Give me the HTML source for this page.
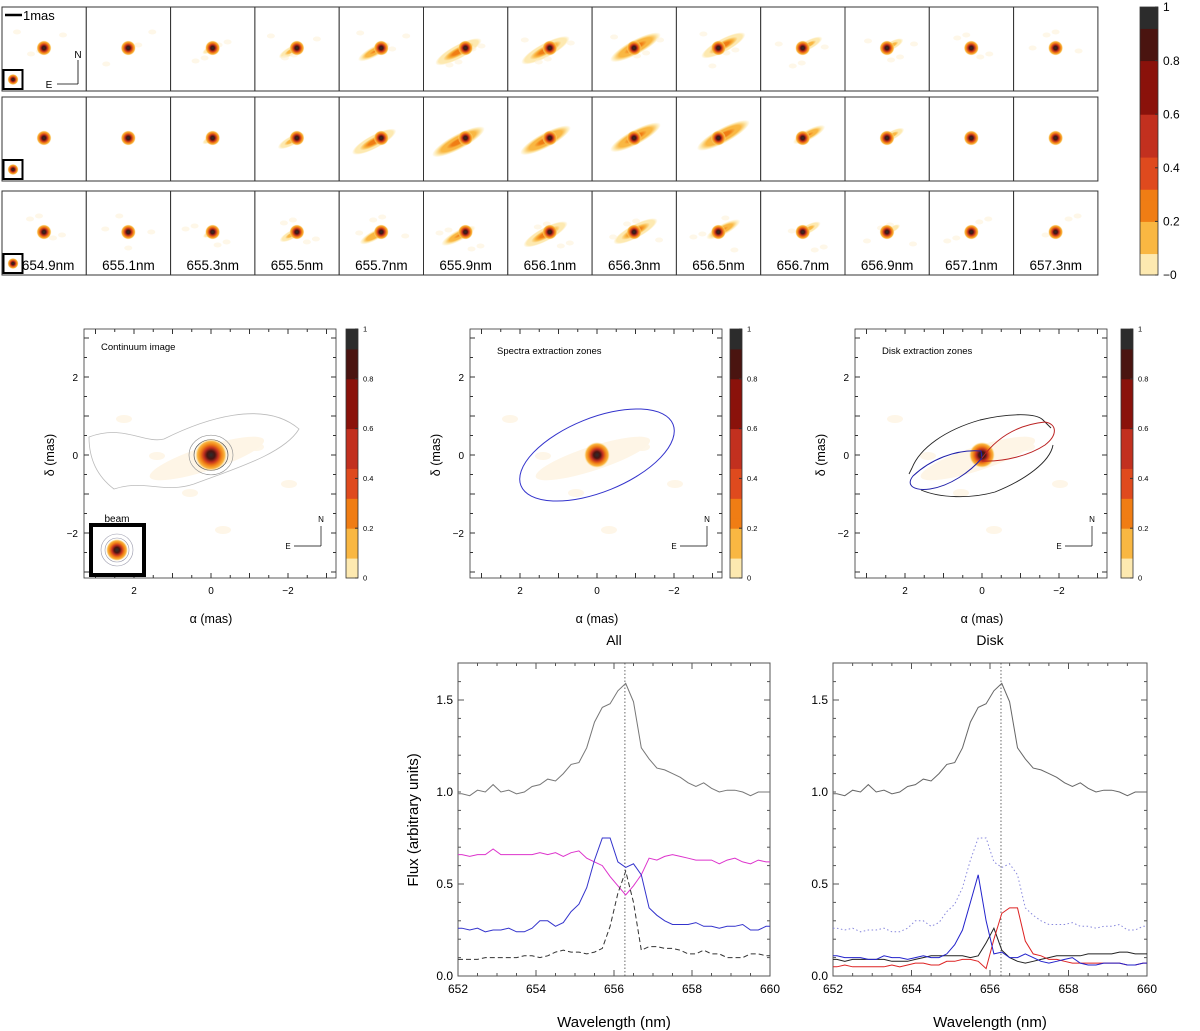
<!DOCTYPE html>
<html><head><meta charset="utf-8">
<style>
html,body{margin:0;padding:0;background:#fff;}
svg{display:block;font-family:"Liberation Sans",sans-serif;}
</style></head>
<body>
<svg id="fig" width="1200" height="1031" viewBox="0 0 1200 1031">
<defs id="defs"></defs>
</svg>
<script>
// ---------- DATA ----------
const channels = ["654.9nm","655.1nm","655.3nm","655.5nm","655.7nm","655.9nm","656.1nm","656.3nm","656.5nm","656.7nm","656.9nm","657.1nm","657.3nm"];
const extObs = [0.05,0.1,0.2,0.35,0.55,0.75,0.8,0.85,0.7,0.4,0.25,0.1,0.05];
const extModel = [0.05,0.1,0.2,0.4,0.7,0.9,0.85,0.85,0.9,0.55,0.3,0.1,0.05];
const extRes = [0.05,0.08,0.15,0.3,0.45,0.6,0.7,0.7,0.6,0.3,0.2,0.1,0.05];
const extShift = [0,0,-0.2,-0.4,-0.5,-0.5,-0.3,0.1,0.35,0.45,0.4,0.2,0];
const cbTicks = ["1","0.8","0.6","0.4","0.2","\u22120"];
const cbSmall = ["1","0.8","0.6","0.4","0.2","0"];
const alphaTicks = [2,0,-2];
const deltaTicks = [2,0,-2];

const wl = [652.1,652.3,652.5,652.7,652.9,653.1,653.3,653.5,653.7,653.9,654.1,654.3,654.5,654.7,654.9,655.1,655.3,655.5,655.7,655.9,656.1,656.3,656.5,656.7,656.9,657.1,657.3,657.5,657.7,657.9,658.1,658.3,658.5,658.7,658.9,659.1,659.3,659.5,659.7,659.9];
const totalFlux = [0.99,0.98,1.01,1.00,1.04,1.00,1.01,0.99,1.00,1.03,1.04,1.07,1.06,1.10,1.15,1.16,1.24,1.38,1.46,1.48,1.55,1.59,1.49,1.24,1.18,1.13,1.12,1.10,1.08,1.05,1.03,1.05,1.02,1.00,1.01,1.01,1.00,0.98,1.00,1.00];
const starFlux = [0.66,0.65,0.66,0.66,0.69,0.66,0.66,0.66,0.66,0.66,0.67,0.66,0.67,0.65,0.67,0.68,0.64,0.62,0.60,0.54,0.49,0.44,0.49,0.55,0.64,0.63,0.65,0.66,0.65,0.64,0.63,0.63,0.63,0.61,0.63,0.64,0.62,0.61,0.63,0.62];
const envFlux = [0.26,0.25,0.26,0.24,0.25,0.25,0.26,0.24,0.24,0.26,0.30,0.30,0.27,0.29,0.35,0.39,0.48,0.63,0.75,0.75,0.62,0.59,0.61,0.55,0.37,0.33,0.30,0.28,0.28,0.28,0.29,0.27,0.27,0.26,0.27,0.27,0.28,0.25,0.25,0.27];
const resFlux = [0.09,0.09,0.09,0.10,0.10,0.10,0.10,0.10,0.11,0.11,0.10,0.11,0.13,0.14,0.13,0.13,0.12,0.13,0.15,0.27,0.45,0.57,0.40,0.14,0.16,0.16,0.15,0.15,0.14,0.12,0.12,0.14,0.12,0.12,0.10,0.10,0.10,0.12,0.12,0.11];
const blueDisk = [0.11,0.10,0.10,0.10,0.09,0.09,0.11,0.10,0.10,0.09,0.10,0.11,0.10,0.10,0.12,0.17,0.25,0.40,0.55,0.30,0.12,0.13,0.10,0.10,0.12,0.10,0.08,0.07,0.08,0.09,0.10,0.07,0.06,0.06,0.07,0.07,0.07,0.06,0.06,0.07];
const redDisk = [0.05,0.06,0.05,0.05,0.05,0.05,0.05,0.06,0.05,0.06,0.07,0.07,0.06,0.06,0.08,0.08,0.09,0.09,0.08,0.04,0.20,0.34,0.37,0.37,0.19,0.12,0.11,0.09,0.09,0.08,0.07,0.07,0.07,0.07,0.07,0.07,0.07,0.06,0.06,0.07];
const blackDisk = [0.09,0.08,0.09,0.09,0.09,0.09,0.09,0.08,0.08,0.08,0.09,0.10,0.11,0.11,0.11,0.11,0.11,0.10,0.11,0.18,0.26,0.14,0.10,0.08,0.07,0.08,0.09,0.10,0.11,0.11,0.11,0.11,0.12,0.12,0.12,0.12,0.13,0.13,0.12,0.12];
const xTicks = [652,654,656,658,660];
const yTicks = [0.0,0.5,1.0,1.5];
const restWl = 656.28;

// ---------- helpers ----------
const NS="http://www.w3.org/2000/svg";
const svg=document.getElementById('fig');
const defs=document.getElementById('defs');
function el(tag,attrs,parent){const e=document.createElementNS(NS,tag);for(const k in attrs)e.setAttribute(k,attrs[k]);(parent||svg).appendChild(e);return e;}
function txt(s,x,y,size,anchor,parent){const t=el('text',{x:x,y:y,'font-size':size,'text-anchor':anchor||'start',fill:'#000'},parent);t.textContent=s;return t;}
const cmap=[[0,'#ffffff'],[0.08,'#fde9b0'],[0.18,'#f9b742'],[0.3,'#f07d14'],[0.45,'#df4a1e'],[0.6,'#c2301f'],[0.78,'#8a120b'],[0.9,'#4a1410'],[1,'#2c2c2c']];
function cm(v){for(let i=1;i<cmap.length;i++){if(v<=cmap[i][0])return cmap[i][1];}return cmap[cmap.length-1][1];}
function radGrad(id,peak){const g=el('radialGradient',{id:id},defs);
  const st=[[0,1],[0.25,0.85],[0.45,0.55],[0.65,0.3],[0.85,0.1],[1,0]];
  st.forEach(s=>{const v=s[1]*peak;el('stop',{offset:s[0],'stop-color':cm(v),'stop-opacity':v<0.02?0:1},g);});
}
radGrad('core',1);
for(let k=1;k<=10;k++){radGrad('ext'+k,k/10*0.32);}
function blob(cx,cy,r,parent){el('circle',{cx:cx,cy:cy,r:r,fill:'url(#core)'},parent);}
function ext(cx,cy,a,strength,shift,parent){
  if(strength<0.08)return;
  const k=Math.max(1,Math.min(10,Math.round(strength*10)));
  const g=el('g',{transform:`translate(${cx},${cy}) rotate(-28)`},parent);
  el('ellipse',{cx:shift*a*0.4,cy:0,rx:a*(0.2+strength*0.6),ry:a*(0.1+strength*0.1),fill:`url(#ext${k})`},g);
}

// ---------- top channel maps ----------
const rowsY=[7,97,191], cellW=84.3, cellH=84, x0=2;
const rowData=[extObs,extModel,extRes];
const rowNames=['observed','model','residual'];
rowsY.forEach((ry,r)=>{
  const row=el('g',{});
  
  
  channels.forEach((c,i)=>{
    const cx=x0+i*cellW;
    const cell=el('g',{},row);
    
    
    el('rect',{x:cx,y:ry,width:cellW,height:cellH,fill:'#fff',stroke:'#333','stroke-width':1},cell);
    ext(cx+42,ry+41,40,rowData[r][i],extShift[i],cell);
    if(r!==1){
      for(let s=0;s<4;s++){el('ellipse',{cx:cx+15+((i*37+s*23+r*11)%55),cy:ry+25+((i*13+s*19)%35),rx:4,ry:2.5,fill:'#fdf1d8',opacity:0.6},cell);}
    }
    blob(cx+42,ry+41,7.5,cell);
    if(i===0){
      el('rect',{x:cx+1.5,y:ry+cellH-21,width:19,height:19,fill:'#fff',stroke:'#000','stroke-width':2},cell);
      blob(cx+11,ry+cellH-11.5,5.5,cell);
    }
    if(r===2){const t=txt(c,cx+cellW/2+(i===0?4:0),ry+79,13.5,'middle',cell);}
  });
});
el('line',{x1:5,y1:15,x2:22,y2:15,stroke:'#000','stroke-width':2.5});
txt('1mas',23,20,13,'start');
el('line',{x1:78,y1:84,x2:78,y2:60,stroke:'#000','stroke-width':0.8});
el('line',{x1:78,y1:84,x2:57,y2:84,stroke:'#000','stroke-width':0.8});
txt('N',78,58,10,'middle');txt('E',49,88,10,'middle');

function colorbar(x,y,w,h,labels,fs,name){
  const g=el('g',{});
  
  
  const n=25;
  for(let i=0;i<n;i++){const v=(i+0.5)/n;el('rect',{x:x,y:y+h-(i+1)*h/n,width:w,height:h/n+0.5,fill:cm(v)},g);}
  el('rect',{x:x,y:y,width:w,height:h,fill:'none',stroke:'#333','stroke-width':0.8},g);
  labels.forEach((l,i)=>{const yy=y+i*h/(labels.length-1);el('line',{x1:x+w-3,y1:yy,x2:x+w,y2:yy,stroke:'#333'},g);txt(l,x+w+5,yy+fs*0.35,fs,'start',g);});
}
colorbar(1140,7,18,268,cbTicks,12,'colorbar-top');

// ---------- middle image panels ----------
const panelX=[84,470,855], PW=252, PT=329, PH=249;
const titles=['Continuum image','Spectra extraction zones','Disk extraction zones'];
const cbX=[346,730,1121];
panelX.forEach((px,p)=>{
  const g=el('g',{});
  
  
  const x0=px+127, y0=PT+126;
  const X=a=>x0-a*38.5, Y=d=>y0-d*39;
  el('rect',{x:px,y:PT,width:PW,height:PH,fill:'#fff'},g);
  for(let s=0;s<6;s++){el('ellipse',{cx:px+40+s*33,cy:PT+90+((s*37)%120),rx:8,ry:4,fill:'#fef6e8'},g);}
  el('ellipse',{cx:x0-5,cy:y0+2,rx:60,ry:12,fill:'#fef5e6',transform:`rotate(-18 ${x0} ${y0})`},g);
  if(p===0){
    el('path',{d:`M${px+5},${PT+108} C${px+40},${PT+95} ${px+60},${PT+115} ${px+80},${PT+110} C${px+120},${PT+90} ${px+180},${PT+70} ${px+215},${PT+100} C${px+200},${PT+125} ${px+150},${PT+140} ${px+110},${PT+155} C${px+80},${PT+165} ${px+60},${PT+150} ${px+30},${PT+160} C${px+10},${PT+145} ${px+5},${PT+125} ${px+5},${PT+108}Z`,fill:'none',stroke:'#bbb','stroke-width':0.8},g);
    [22,17,13].forEach((r,i)=>el('ellipse',{cx:x0,cy:y0,rx:r,ry:r*0.9,fill:'none',stroke:i==0?'#999':'#555','stroke-width':0.7},g));
  }
  blob(x0,y0,p===0?16:13,g);
  el('rect',{x:px,y:PT,width:PW,height:PH,fill:'none',stroke:'#333','stroke-width':0.8},g);
  for(let a=-3;a<=3;a+=0.5){const xx=X(a);const L=(a%1===0)?5:3;el('line',{x1:xx,y1:PT+PH,x2:xx,y2:PT+PH-L,stroke:'#333'},g);el('line',{x1:xx,y1:PT,x2:xx,y2:PT+L,stroke:'#333'},g);}
  for(let d=-3;d<=3;d+=0.5){const yy=Y(d);const L=(d%1===0)?5:3;el('line',{x1:px,y1:yy,x2:px+L,y2:yy,stroke:'#333'},g);el('line',{x1:px+PW,y1:yy,x2:px+PW-L,y2:yy,stroke:'#333'},g);}
  alphaTicks.forEach(a=>txt(a<0?'\u2212'+(-a):String(a),X(a),PT+PH+16,10,'middle',g));
  deltaTicks.forEach(d=>txt(d<0?'\u2212'+(-d):String(d),px-6,Y(d)+4,10,'end',g));
  const xl=txt('\u03b1 (mas)',x0,PT+PH+45,12.5,'middle',g);
  const yl=txt('\u03b4 (mas)',0,0,12.5,'middle',g);yl.setAttribute('transform',`translate(${px-30},${y0}) rotate(-90)`);
  
  const tt=txt(titles[p],px+(p===0?17:27),PT+(p===0?21:25),9.5,'start',g);
  el('line',{x1:px+237,y1:PT+217,x2:px+237,y2:PT+197,stroke:'#000','stroke-width':0.7},g);
  el('line',{x1:px+237,y1:PT+217,x2:px+210,y2:PT+217,stroke:'#000','stroke-width':0.7},g);
  txt('N',px+237,PT+193,8,'middle',g);txt('E',px+204,PT+220,8,'middle',g);
  colorbar(cbX[p],PT,12,PH,cbSmall,7.5,'colorbar-panel-'+(p+1));
  if(p===0){
    el('rect',{x:px+7,y:PT+196,width:53,height:50,fill:'#fff',stroke:'#000','stroke-width':4},g);
    [16,12,9].forEach(r=>el('circle',{cx:px+33,cy:PT+221,r:r,fill:'none',stroke:'#99a','stroke-width':0.6},g));
    blob(px+33,PT+221,11,g);
    txt('beam',px+33,PT+193,10,'middle',g);
  }
  if(p===1){
    el('ellipse',{cx:x0,cy:y0,rx:82,ry:37,fill:'none',stroke:'#3333cc','stroke-width':1,transform:`rotate(-22 ${x0} ${y0})`},g);
  }
  if(p===2){
    const o=(x0-987), q=(y0-455);
    const P=s=>s.replace(/(-?\d+),(-?\d+)/g,(m,a,b)=>(+a+o)+','+(+b+q));
    el('path',{d:P('M917,468 C925,448 950,430 985,420 C1010,414 1040,412 1048,420 L1056,428 M1058,445 C1055,462 1030,480 1000,492 C975,499 945,498 926,490 M917,468 L914,474'),fill:'none',stroke:'#222','stroke-width':0.9},g);
    el('path',{d:P('M986,451 C960,449 935,460 918,476 C910,486 920,491 935,489 C955,486 975,472 987,458 Z'),fill:'none',stroke:'#2222aa','stroke-width':1},g);
    el('path',{d:P('M987,458 C1000,440 1020,425 1050,422 C1062,424 1063,435 1050,445 C1035,455 1010,462 987,461'),fill:'none',stroke:'#bb2222','stroke-width':1},g);
  }
});

// ---------- spectra ----------
function spectrum(px,pr,title,series,name){
  const g=el('g',{});
  
  
  const top=663,bot=976;
  const X=w=>px+(w-652)/(660-652)*(pr-px);
  const Y=f=>bot-f*184;
  el('rect',{x:px,y:top,width:pr-px,height:bot-top,fill:'#fff',stroke:'#555','stroke-width':1},g);
  for(let w=652;w<=660.001;w+=0.5){const L=(Math.abs(w%2)<0.01)?6:3;el('line',{x1:X(w),y1:bot,x2:X(w),y2:bot-L,stroke:'#555'},g);el('line',{x1:X(w),y1:top,x2:X(w),y2:top+L,stroke:'#555'},g);}
  for(let f=0;f<=1.7;f+=0.1){const L=(Math.abs((f*10)%5)<0.01)?6:3;el('line',{x1:px,y1:Y(f),x2:px+L,y2:Y(f),stroke:'#555'},g);el('line',{x1:pr,y1:Y(f),x2:pr-L,y2:Y(f),stroke:'#555'},g);}
  xTicks.forEach(w=>txt(String(w),X(w),bot+17,12,'middle',g));
  yTicks.forEach(f=>txt(f.toFixed(1),px-5,Y(f)+4,12,'end',g));
  el('line',{x1:X(restWl),y1:top,x2:X(restWl),y2:bot,stroke:'#444','stroke-width':0.8,'stroke-dasharray':'1.5,2'},g);
  series.forEach(s=>{
    const pts=s.v.map((f,i)=>X(wl[i]).toFixed(1)+','+Y(f).toFixed(1));
    pts.unshift(X(652).toFixed(1)+','+Y(s.v[0]).toFixed(1));
    pts.push(X(660).toFixed(1)+','+Y(s.v[s.v.length-1]).toFixed(1));
    const pl=el('polyline',{points:pts.join(' '),fill:'none',stroke:s.c,'stroke-width':1,'stroke-dasharray':s.d||'none'},g);
    
    
  });
  const t=txt(title,(px+pr)/2,645,14,'middle',g);
  const xl=txt('Wavelength (nm)',(px+pr)/2,1027,15,'middle',g);
}
spectrum(458,770,'All',[
  {v:totalFlux,c:'#777',n:'total-flux-line'},
  {v:starFlux,c:'#dd33cc',n:'star-flux-line'},
  {v:envFlux,c:'#3333cc',n:'envelope-flux-line'},
  {v:resFlux,c:'#333',d:'5,3',n:'residual-flux-line'}
],'spectrum-all');
spectrum(833,1147,'Disk',[
  {v:totalFlux,c:'#666',n:'total-flux-line'},
  {v:envFlux,c:'#8888dd',d:'1.5,2.5',n:'disk-flux-dotted-line'},
  {v:blackDisk,c:'#222',n:'disk-center-line'},
  {v:redDisk,c:'#dd2222',n:'disk-red-line'},
  {v:blueDisk,c:'#2222cc',n:'disk-blue-line'}
],'spectrum-disk');
const yl=txt('Flux (arbitrary units)',0,0,15,'middle');
yl.setAttribute('transform','translate(418,820) rotate(-90)');


</script>
</body></html>
